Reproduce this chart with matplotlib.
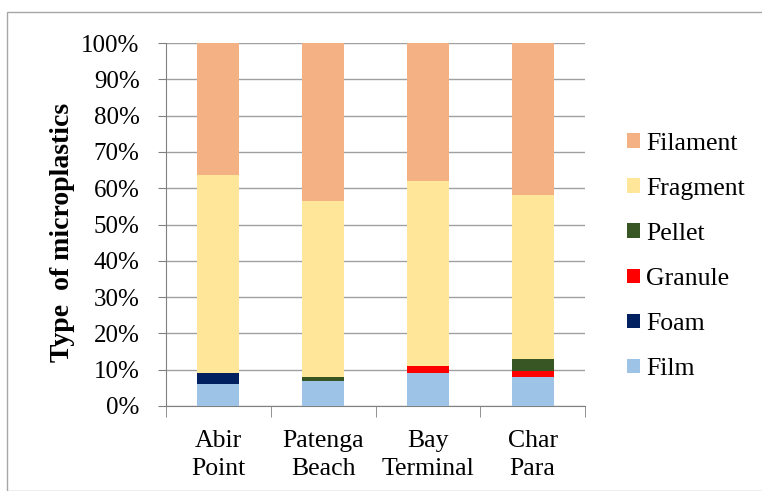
import numpy as np
import matplotlib.pyplot as plt
from matplotlib import font_manager as fm
from matplotlib.patches import Rectangle

reg_path = fm.findfont(fm.FontProperties(family='Liberation Serif'))
bold_path = fm.findfont(fm.FontProperties(family='Liberation Serif', weight='bold'))
TICK = fm.FontProperties(fname=reg_path, size=18)
XLAB = fm.FontProperties(fname=reg_path, size=18.5)
LEG = fm.FontProperties(fname=reg_path, size=18.5)
BOLD = fm.FontProperties(fname=bold_path, size=20)

sites = ['Abir\nPoint', 'Patenga\nBeach', 'Bay\nTerminal', 'Char\nPara']
film = [6.0, 7.0, 9.0, 8.0]
foam = [3.0, 0.0, 0.0, 0.0]
granule = [0.0, 0.0, 2.0, 1.6]
pellet = [0.0, 1.0, 0.0, 3.3]
fragment = [54.5, 48.6, 51.1, 45.1]
filament = [36.5, 43.4, 37.9, 42.0]

series = [('Film', film, '#9dc3e6'),
          ('Foam', foam, '#002060'),
          ('Granule', granule, '#ff0000'),
          ('Pellet', pellet, '#375623'),
          ('Fragment', fragment, '#ffe699'),
          ('Filament', filament, '#f4b183')]

fig = plt.figure(figsize=(7.62, 4.91), dpi=100)
fig.patches.append(Rectangle((7/762, 0), 1, 1 - 12/491, transform=fig.transFigure,
                             fill=False, edgecolor='#a6a6a6', lw=1))
ax = fig.add_axes([166/762, 1 - 406/491, (585 - 166)/762, (406 - 43)/491])

x = np.arange(len(sites))
bottom = np.zeros(len(sites))
handles = []
for name, vals, col in series:
    b = ax.bar(x, vals, 0.4, bottom=bottom, color=col, label=name, zorder=3)
    handles.append(b)
    bottom += np.array(vals)

ax.set_xlim(-0.5, 3.5)
ax.set_ylim(0, 100)
ax.set_yticks(np.arange(0, 101, 10))
ax.set_yticklabels(['%d%%' % v for v in range(0, 101, 10)], fontproperties=TICK)
ax.yaxis.grid(True, color='#a0a0a0', lw=1, zorder=0)
ax.set_xticks(x)
ax.set_xticklabels(sites, fontproperties=XLAB, linespacing=1.32)
ax.set_xticks(np.arange(-0.5, 4, 1), minor=True)
ax.tick_params(axis='x', which='major', length=0, pad=17.5)
ax.tick_params(axis='x', which='minor', length=8, color='#808080')
ax.tick_params(axis='y', length=6, color='#808080', pad=13)
for s in ['top', 'right']:
    ax.spines[s].set_visible(False)
for s in ['left', 'bottom']:
    ax.spines[s].set_color('#808080')

ax.set_ylabel('Type  of microplastics', fontproperties=BOLD)
ax.yaxis.set_label_coords((75 - 166) / 419, 0.479)

ax.legend(handles[::-1], [h.get_label() for h in handles[::-1]],
          loc='center left', bbox_to_anchor=(1.10, 0.412), frameon=False,
          borderpad=0, borderaxespad=0, prop=LEG,
          handlelength=0.5, handleheight=0.5, handletextpad=0.25, labelspacing=0.9)

fig.savefig('out.png', dpi=100)
